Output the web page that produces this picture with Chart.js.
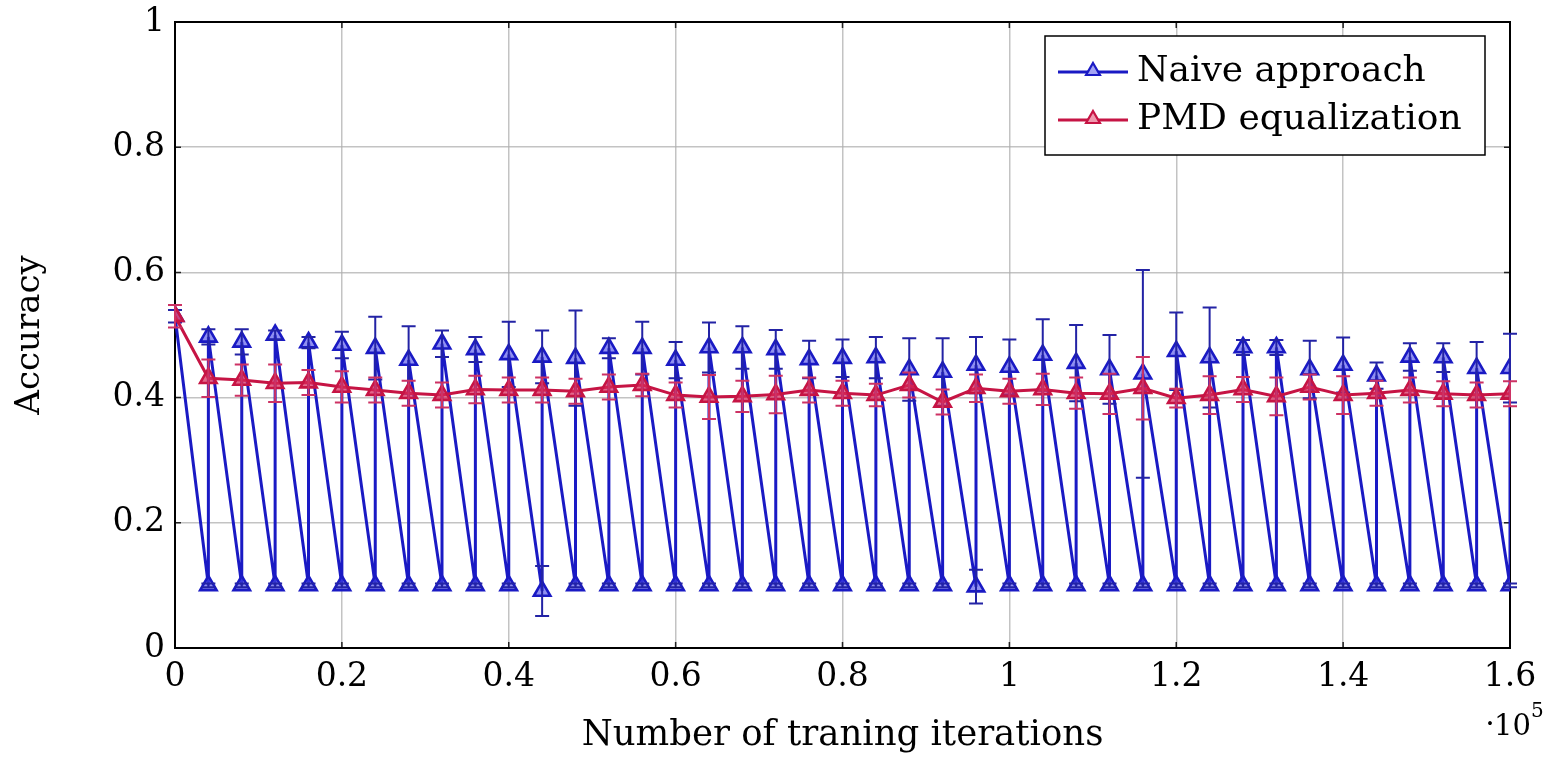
<!DOCTYPE html>
<html><head><meta charset="utf-8">
<script src="https://cdn.jsdelivr.net/npm/chart.js@4/dist/chart.umd.min.js"></script>
<style>html,body{margin:0;padding:0;background:#fff;}</style>
</head><body>
<canvas id="c" width="1547" height="759" style="width:1547px;height:759px;display:block"></canvas>
<script>
// ---- data (x in units of 10^5 training iterations) ----
const iterations = [0, 0.04, 0.08, 0.12, 0.16, 0.20, 0.24, 0.28, 0.32, 0.36, 0.40,
  0.44, 0.48, 0.52, 0.56, 0.60, 0.64, 0.68, 0.72, 0.76, 0.80,
  0.84, 0.88, 0.92, 0.96, 1.00, 1.04, 1.08, 1.12, 1.16, 1.20,
  1.24, 1.28, 1.32, 1.36, 1.40, 1.44, 1.48, 1.52, 1.56, 1.60];
const naiveHigh = [0.530, 0.497, 0.489, 0.500, 0.488, 0.484, 0.479, 0.460, 0.486, 0.477, 0.469,
  0.465, 0.463, 0.479, 0.479, 0.460, 0.480, 0.480, 0.477, 0.461, 0.463,
  0.464, 0.445, 0.441, 0.452, 0.449, 0.468, 0.455, 0.445, 0.438, 0.474,
  0.464, 0.480, 0.480, 0.445, 0.452, 0.435, 0.465, 0.464, 0.447, 0.447];
const naiveHighErr = [0.010, 0.012, 0.020, 0.007, 0.009, 0.021, 0.050, 0.054, 0.021, 0.020, 0.052,
  0.042, 0.076, 0.016, 0.042, 0.029, 0.040, 0.034, 0.031, 0.030, 0.030,
  0.033, 0.050, 0.054, 0.045, 0.044, 0.057, 0.061, 0.055, 0.166, 0.062,
  0.080, 0.012, 0.012, 0.046, 0.044, 0.021, 0.022, 0.023, 0.042, 0.055];
const naiveLow = [null, 0.100, 0.100, 0.100, 0.100, 0.100, 0.100, 0.100, 0.100, 0.100, 0.100,
  0.091, 0.100, 0.100, 0.100, 0.100, 0.100, 0.100, 0.100, 0.100, 0.100,
  0.100, 0.100, 0.100, 0.098, 0.100, 0.100, 0.100, 0.100, 0.100, 0.100,
  0.100, 0.100, 0.100, 0.100, 0.100, 0.100, 0.100, 0.100, 0.100, 0.100];
const naiveLowErr = [null, 0.003, 0.003, 0.003, 0.003, 0.003, 0.003, 0.003, 0.003, 0.003, 0.003,
  0.040, 0.003, 0.003, 0.003, 0.003, 0.003, 0.003, 0.003, 0.003, 0.003,
  0.003, 0.003, 0.003, 0.027, 0.003, 0.003, 0.003, 0.003, 0.003, 0.003,
  0.003, 0.003, 0.003, 0.003, 0.003, 0.003, 0.003, 0.003, 0.003, 0.003];
const pmdValues = [0.530, 0.431, 0.428, 0.423, 0.424, 0.417, 0.412, 0.407, 0.404, 0.413, 0.412,
  0.412, 0.410, 0.417, 0.420, 0.404, 0.401, 0.402, 0.405, 0.412, 0.407,
  0.404, 0.420, 0.393, 0.415, 0.410, 0.413, 0.407, 0.406, 0.415, 0.399,
  0.404, 0.413, 0.402, 0.417, 0.404, 0.407, 0.412, 0.406, 0.404, 0.406];
const pmdErr = [0.018, 0.030, 0.025, 0.030, 0.020, 0.025, 0.020, 0.020, 0.020, 0.022, 0.020,
  0.020, 0.020, 0.020, 0.018, 0.020, 0.035, 0.025, 0.030, 0.020, 0.020,
  0.018, 0.020, 0.020, 0.022, 0.020, 0.025, 0.025, 0.032, 0.050, 0.015,
  0.030, 0.020, 0.030, 0.020, 0.030, 0.020, 0.020, 0.020, 0.020, 0.020];
const xTicks = [0, 0.2, 0.4, 0.6, 0.8, 1, 1.2, 1.4, 1.6];
const yTicks = [0, 0.2, 0.4, 0.6, 0.8, 1];
const seriesNames = ['Naive approach', 'PMD equalization'];
const xTitle = 'Number of traning iterations';
const yTitle = 'Accuracy';

// ---- build library tables ----
const naiveData = [], naiveErrs = [];
iterations.forEach((x, i) => {
  if (naiveLow[i] !== null) { naiveData.push({x: x, y: naiveLow[i]}); naiveErrs.push(naiveLowErr[i]); }
  naiveData.push({x: x, y: naiveHigh[i]}); naiveErrs.push(naiveHighErr[i]);
});
const pmdData = iterations.map((x, i) => ({x: x, y: pmdValues[i]}));

const BLUE = 'rgb(26,26,196)';
const BLUE_ERR = 'rgb(35,35,165)';
const RED = 'rgb(198,20,68)';
const RED_ERR = 'rgb(205,50,100)';
const FONT = '"DejaVu Serif", serif';

function tri(ctx, x, y, r) {
  ctx.beginPath();
  ctx.moveTo(x, y - r);
  ctx.lineTo(x + r * Math.sin(2 * Math.PI / 3), y + r / 2);
  ctx.lineTo(x - r * Math.sin(2 * Math.PI / 3), y + r / 2);
  ctx.closePath();
}

const decor = {
  id: 'decor',
  beforeDatasetsDraw(chart) {
    const {ctx, chartArea: a, scales: {x, y}} = chart;
    ctx.save();
    ctx.strokeStyle = '#222'; ctx.lineWidth = 1.5;
    ctx.beginPath();
    xTicks.forEach(v => { const p = x.getPixelForValue(v);
      ctx.moveTo(p, a.bottom); ctx.lineTo(p, a.bottom - 6);
      ctx.moveTo(p, a.top); ctx.lineTo(p, a.top + 6); });
    yTicks.forEach(v => { const p = y.getPixelForValue(v);
      ctx.moveTo(a.left, p); ctx.lineTo(a.left + 6, p);
      ctx.moveTo(a.right, p); ctx.lineTo(a.right - 6, p); });
    ctx.stroke();
    ctx.strokeStyle = '#000'; ctx.lineWidth = 2;
    ctx.strokeRect(a.left, a.top, a.right - a.left, a.bottom - a.top);
    ctx.restore();
  },
  afterDatasetDraw(chart, args) {
    const ds = chart.data.datasets[args.index];
    if (!ds.errors) return;
    const {ctx, scales: {x, y}} = chart;
    ctx.save();
    ctx.strokeStyle = ds.errColor; ctx.lineWidth = 2;
    ds.data.forEach((p, i) => {
      const e = ds.errors[i];
      if (!e) return;
      const px = x.getPixelForValue(p.x);
      const t = y.getPixelForValue(p.y + e), b = y.getPixelForValue(p.y - e);
      ctx.beginPath();
      ctx.moveTo(px, t); ctx.lineTo(px, b);
      ctx.moveTo(px - 7, t); ctx.lineTo(px + 7, t);
      ctx.moveTo(px - 7, b); ctx.lineTo(px + 7, b);
      ctx.stroke();
    });
    ctx.restore();
  },
  afterDraw(chart) {
    const ctx = chart.ctx;
    ctx.save();
    // legend
    const bx = 1045, by = 36, bw = 440, bh = 119;
    ctx.fillStyle = '#fff'; ctx.fillRect(bx, by, bw, bh);
    ctx.strokeStyle = '#000'; ctx.lineWidth = 1.5; ctx.strokeRect(bx, by, bw, bh);
    const rows = [[BLUE, 'rgba(90,90,235,0.55)', seriesNames[0], 72], [RED, 'rgba(225,70,110,0.55)', seriesNames[1], 120]];
    rows.forEach(([c, f, label, ry]) => {
      ctx.strokeStyle = c; ctx.lineWidth = 2.8;
      ctx.beginPath(); ctx.moveTo(1058, ry); ctx.lineTo(1128, ry); ctx.stroke();
      tri(ctx, 1093, ry - 1, 8);
      ctx.fillStyle = '#fff'; ctx.fill();
      ctx.fillStyle = f; ctx.fill();
      ctx.lineWidth = 2.2; ctx.stroke();
      ctx.fillStyle = '#000'; ctx.font = '36px ' + FONT;
      ctx.textBaseline = 'middle'; ctx.textAlign = 'left';
      ctx.fillText(label, 1137, ry);
    });
    // exponent marker  ·10^5
    ctx.fillStyle = '#000'; ctx.textBaseline = 'alphabetic';
    ctx.font = '30px ' + FONT; ctx.textAlign = 'center';
    ctx.fillText('\u00b7', 1490, 733);
    ctx.textAlign = 'left';
    ctx.font = '29px ' + FONT;
    ctx.fillText('10', 1494, 735);
    const w = ctx.measureText('10').width;
    ctx.font = '20px ' + FONT;
    ctx.fillText('5', 1494 + w, 717);
    ctx.restore();
  }
};

Chart.defaults.color = '#000';
Chart.defaults.font.family = FONT;

new Chart(document.getElementById('c'), {
  type: 'line',
  data: {
    datasets: [
      { label: seriesNames[0], data: naiveData, errors: naiveErrs, errColor: BLUE_ERR,
        borderColor: BLUE, borderWidth: 3, tension: 0, order: 2,
        pointStyle: 'triangle', pointRadius: 9.5, pointBorderWidth: 2.6,
        pointBorderColor: BLUE, pointBackgroundColor: 'rgba(70,70,230,0.6)' },
      { label: seriesNames[1], data: pmdData, errors: pmdErr, errColor: RED_ERR,
        borderColor: RED, borderWidth: 3, tension: 0, order: 1,
        pointStyle: 'triangle', pointRadius: 9.5, pointBorderWidth: 2.6,
        pointBorderColor: RED, pointBackgroundColor: 'rgba(215,40,90,0.7)' }
    ]
  },
  options: {
    responsive: false, animation: false, devicePixelRatio: 1,
    layout: { padding: { left: 10, right: 37, top: 22, bottom: 2 } },
    plugins: { legend: { display: false }, tooltip: { enabled: false } },
    scales: {
      x: {
        type: 'linear', min: 0, max: 1.6,
        afterFit(s) { s.height = 109; s.paddingLeft = 0; s.paddingRight = 0; },
        afterBuildTicks(s) { s.ticks = xTicks.map(v => ({value: v})); },
        ticks: { padding: 10, font: { size: 33 }, maxRotation: 0, autoSkip: false,
          callback: v => String(Number(v.toFixed(1))) },
        grid: { color: 'rgba(175,175,175,0.75)', lineWidth: 1.5, drawTicks: false },
        border: { display: false },
        title: { display: true, text: xTitle, font: { size: 35.5 }, padding: { top: 0, bottom: 0 } }
      },
      y: {
        min: 0, max: 1,
        afterFit(s) { s.width = 165; s.paddingTop = 0; s.paddingBottom = 0; },
        afterBuildTicks(s) { s.ticks = yTicks.map(v => ({value: v})); },
        ticks: { padding: 10, font: { size: 33 },
          callback: v => String(Number(v.toFixed(1))) },
        grid: { color: 'rgba(175,175,175,0.75)', lineWidth: 1.5, drawTicks: false },
        border: { display: false },
        title: { display: true, text: yTitle, font: { size: 34 }, padding: { top: 0, bottom: 0 } }
      }
    }
  },
  plugins: [decor]
});
</script>
</body></html>
